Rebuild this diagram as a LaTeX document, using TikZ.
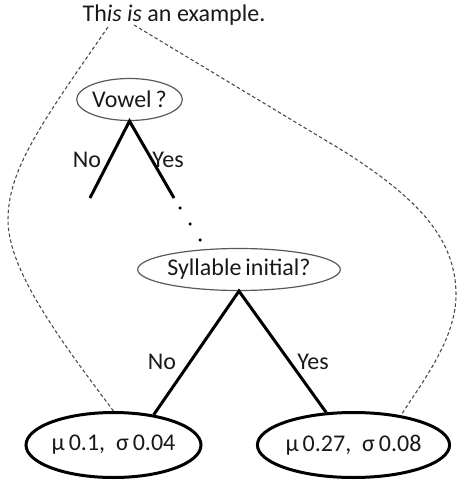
\documentclass[tikz,border=0pt]{standalone}
\usepackage{fontspec}
\setmainfont{Carlito}
\usetikzlibrary{shapes.geometric}
\begin{document}
\begin{tikzpicture}[x=1pt,y=-1pt,
  every node/.style={font=\fontsize{24}{28}\selectfont, text=black!90},
  question/.style={ellipse, draw=black!65, line width=1.2pt, inner sep=0pt},
  leaf/.style={ellipse, draw=black, line width=3pt, inner sep=0pt, minimum width=164pt, minimum height=65pt},
  branch/.style={line width=3pt, black},
  trace/.style={draw=black!70, line width=1.1pt, dash pattern=on 3.5pt off 2.5pt},
  lbl/.style={inner sep=0pt},
  dotmark/.style={circle, fill=black, inner sep=0pt, minimum size=3.5pt}]
\useasboundingbox (0,0) rectangle (457,481);
\node[lbl] (title) at (174,15) {Th\textit{is} \textit{is} an example.};
\coordinate (s1) at (108,27);
\coordinate (s2) at (134,25);
\node[question, minimum width=104pt, minimum height=42pt] (vowel) at (129.5,99.5) {Vowel\,?};
\node[question, minimum width=191pt, minimum height=42pt] (syll) at (239,269.5) {Syllable\,initial?};
\node[leaf] (leafL) at (113.5,445) {µ\,0.1,\ \ σ\,0.04};
\node[leaf] (leafR) at (353.5,445) {µ\,0.27,\ \ σ\,0.08};
\coordinate (vl) at (90,198);
\coordinate (vr) at (174,198);
\draw[branch] (vl) -- (vowel.south) -- (vr);
\node[lbl] (vno) at (87,160) {No};
\node[lbl] (vyes) at (168,160) {Yes};
\node[dotmark] (d1) at (180,208) {};
\node[dotmark] (d2) at (190,224) {};
\node[dotmark] (d3) at (200,240) {};
\draw[branch] (leafL.37) -- (syll.south) -- (leafR.130);
\node[lbl] (sno) at (162,362) {No};
\node[lbl] (syes) at (313,362) {Yes};
\draw[trace] (s1) .. controls (40,125) and (8,170) .. (8,220)
  .. controls (8,270) and (60,340) .. (leafL.north);
\draw[trace] (s2) -- (345,152) .. controls (420,200) and (456,240) .. (456,295)
  .. controls (456,340) and (420,385) .. (leafR.32);
\end{tikzpicture}
\end{document}
